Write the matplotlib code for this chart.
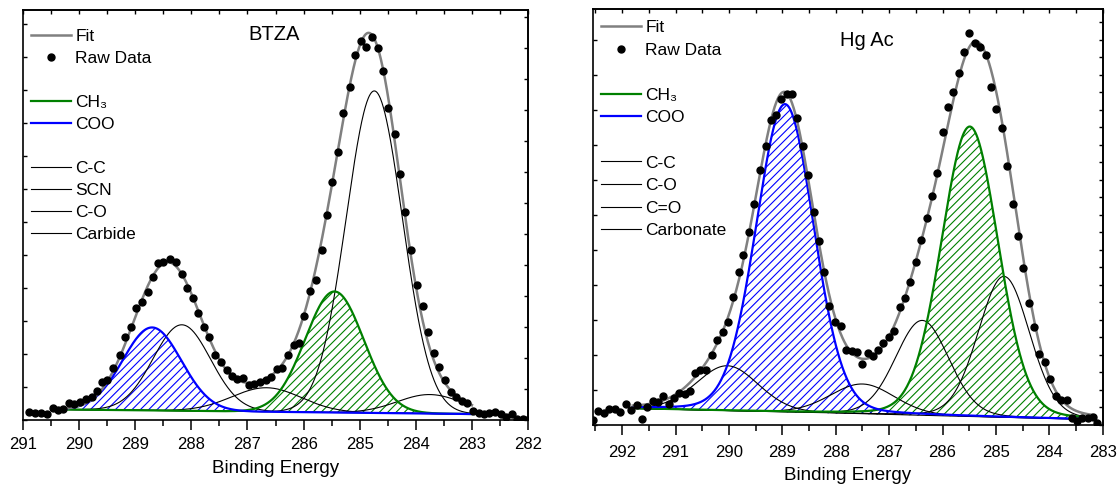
import numpy as np
import matplotlib
matplotlib.use('Agg')
import matplotlib.pyplot as plt
from matplotlib.ticker import MultipleLocator
from matplotlib.lines import Line2D

plt.rcParams['font.family'] = ['Liberation Sans', 'DejaVu Sans']
plt.rcParams['hatch.linewidth'] = 0.8

# ---------------- BTZA panel ----------------
btza_energy = [290.89, 290.79, 290.68, 290.58, 290.47, 290.37, 290.28, 290.18, 290.09, 289.98,
               289.88, 289.78, 289.68, 289.59, 289.50, 289.39, 289.28, 289.18, 289.08, 288.99,
               288.88, 288.78, 288.69, 288.59, 288.50, 288.38, 288.27, 288.17, 288.07, 287.98,
               287.88, 287.77, 287.68, 287.58, 287.48, 287.37, 287.27, 287.18, 287.08, 286.98,
               286.88, 286.78, 286.67, 286.58, 286.48, 286.39, 286.28, 286.18, 286.08, 285.99,
               285.88, 285.78, 285.68, 285.58, 285.49, 285.38, 285.29, 285.18, 285.08, 284.98,
               284.89, 284.78, 284.68, 284.58, 284.49, 284.38, 284.29, 284.19, 284.09, 283.98,
               283.88, 283.78, 283.67, 283.58, 283.48, 283.38, 283.28, 283.18, 283.08, 282.98,
               282.88, 282.78, 282.69, 282.59, 282.48, 282.39, 282.29, 282.19, 282.09, 282.02]
btza_counts = [8.3, 6.7, 6.7, 5.7, 11.7, 10, 10.7, 16.7, 16, 18.3,
               20.7, 23.3, 29.3, 38.3, 40, 51.7, 65, 83.3, 93.3, 111.7,
               118.3, 128.3, 143.3, 156.7, 158.3, 160.7, 158.3, 146, 131.7, 121.7,
               106.7, 93.3, 83.3, 65, 58.3, 50, 44, 40.7, 41.7, 35,
               36, 38.3, 40, 43.3, 50.7, 51.7, 65, 75, 77.3, 104,
               129.3, 140, 170, 205, 238.3, 268.3, 307.3, 332.7, 365, 379,
               373.3, 383.3, 371.7, 349, 311.7, 286, 246, 208, 170, 135,
               114, 87.7, 67.3, 52.7, 40, 28.3, 23.3, 19, 17.3, 9.3,
               6.7, 6, 7.3, 7.7, 5.7, 3.3, 5.7, 0.7, 0.7, 0]
btza_bg_energy = [290.2, 283.0]
btza_bg_level = [10.5, 6.0]
btza_names = ['CH₃', 'COO', 'C-C', 'SCN', 'C-O', 'Carbide']
btza_centers = [285.45, 288.70, 284.74, 288.17, 286.66, 283.75]
btza_heights = [121, 83, 322, 86, 24, 19]
btza_sigmas = [0.52, 0.52, 0.50, 0.51, 0.62, 0.58]
btza_lorentz = 0.0

# ---------------- Hg Ac panel ----------------
hgac_energy = [292.54, 292.45, 292.34, 292.24, 292.13, 292.04, 291.93, 291.83, 291.73, 291.63,
               291.53, 291.43, 291.32, 291.23, 291.13, 291.03, 290.93, 290.82, 290.73, 290.63,
               290.54, 290.43, 290.32, 290.22, 290.12, 290.02, 289.92, 289.82, 289.73, 289.62,
               289.53, 289.42, 289.31, 289.22, 289.12, 289.02, 288.92, 288.81, 288.72, 288.61,
               288.51, 288.41, 288.31, 288.22, 288.12, 288.01, 287.91, 287.81, 287.70, 287.61,
               287.50, 287.40, 287.31, 287.20, 287.11, 287.00, 286.90, 286.80, 286.70, 286.61,
               286.50, 286.40, 286.30, 286.20, 286.10, 286.00, 285.90, 285.80, 285.70, 285.60,
               285.50, 285.39, 285.30, 285.19, 285.09, 285.00, 284.89, 284.79, 284.69, 284.59,
               284.49, 284.39, 284.29, 284.19, 284.09, 283.99, 283.88, 283.78, 283.67, 283.58,
               283.48, 283.38, 283.28, 283.19, 283.10]
hgac_counts = [5, 14.3, 11.7, 15.7, 15.7, 12.7, 21, 15, 20.3, 6.3,
               17.7, 24.3, 23.3, 29, 21, 26.7, 32.3, 31, 34.3, 51.7,
               55, 55, 69.5, 85, 93.3, 103.3, 128, 153, 170, 192.7,
               220.5, 255, 279.3, 305, 310, 325.7, 331, 331, 306.7, 279,
               250, 213.3, 184.3, 153.3, 119, 103.3, 99, 75, 74.3, 73.3,
               61, 72.3, 69, 75, 81.7, 87.7, 94, 118.3, 126.7, 143.3,
               163.3, 185, 207, 229, 251.7, 293.3, 317.7, 333.3, 351.7, 373.3,
               392.3, 381.7, 378.3, 370, 337.7, 316.3, 296.7, 259.3, 221, 189,
               156.7, 121.7, 98.3, 71, 63.3, 46, 29, 25, 25, 6.7,
               4, 6.7, 7, 8.3, 2.3]
hgac_bg_energy = [291.8, 283.2]
hgac_bg_level = [16.5, 5.5]
hgac_names = ['CH₃', 'COO', 'C-C', 'C-O', 'C=O', 'Carbonate']
hgac_centers = [285.49, 288.95, 284.85, 286.38, 287.50, 290.03]
hgac_heights = [290, 308, 141, 95, 30, 45]
hgac_sigmas = [0.53, 0.54, 0.48, 0.50, 0.60, 0.58]
hgac_lorentz = 0.1

FIT_C = '#808080'
CH3_C = '#008000'
COO_C = '#0000ff'


def peak(x, c, h, s, m):
    g = np.exp(-(x - c) ** 2 / (2 * s ** 2))
    lor = 1.0 / (1.0 + ((x - c) / (1.1774 * s)) ** 2)
    return h * ((1 - m) * g + m * lor)


def draw_panel(ax, energy, counts, bgE, bgL, names, centers, heights, sigmas, m):
    x = np.linspace(bgE[0], bgE[1], 800)
    bg = np.interp(x, bgE[::-1], bgL[::-1])
    comps = [peak(x, c, h, s, m) for c, h, s in zip(centers, heights, sigmas)]
    for comp in comps[2:]:
        ax.plot(x, bg + comp, color='black', lw=0.8, zorder=3)
    ax.fill_between(x, bg, bg + comps[0], facecolor='none', edgecolor=CH3_C,
                    hatch='////', lw=0, zorder=2)
    ax.plot(x, bg + comps[0], color=CH3_C, lw=1.6, zorder=4)
    ax.fill_between(x, bg, bg + comps[1], facecolor='none', edgecolor=COO_C,
                    hatch='////', lw=0, zorder=2)
    ax.plot(x, bg + comps[1], color=COO_C, lw=1.6, zorder=4)
    ax.plot(x, bg + np.sum(comps, axis=0), color=FIT_C, lw=1.8, zorder=5)
    ax.plot(energy, counts, 'o', color='black', ms=5, zorder=6)

    handles = [Line2D([], [], color=FIT_C, lw=1.8),
               Line2D([], [], color='black', marker='o', ms=5, ls='none'),
               Line2D([], [], ls='none'),
               Line2D([], [], color=CH3_C, lw=1.6),
               Line2D([], [], color=COO_C, lw=1.6),
               Line2D([], [], ls='none')] + \
              [Line2D([], [], color='black', lw=0.8) for _ in names[2:]]
    labels = ['Fit', 'Raw Data', ' ', names[0], names[1], ' '] + list(names[2:])
    return handles, labels


def style_axes(ax, xlim, ylim, ytick_l, ytick_r, tpad, lpad):
    ax.set_xlim(*xlim)
    ax.set_ylim(*ylim)
    ax.xaxis.set_major_locator(MultipleLocator(1))
    ax.xaxis.set_minor_locator(MultipleLocator(0.5))
    ax.tick_params(axis='x', which='major', direction='out', length=7, width=1.1,
                   labelsize=12, pad=tpad)
    ax.tick_params(axis='x', which='minor', direction='out', length=4, width=1.1)
    ax.yaxis.set_major_locator(MultipleLocator(ytick_l))
    ax.tick_params(axis='y', which='major', direction='in', length=3, width=1,
                   labelleft=False)
    for sp in ax.spines.values():
        sp.set_linewidth(1.2)
    top = ax.secondary_xaxis('top')
    top.xaxis.set_major_locator(MultipleLocator(0.5))
    top.tick_params(direction='in', length=3, width=1, labeltop=False)
    top.spines['top'].set_linewidth(1.2)
    right = ax.secondary_yaxis('right')
    right.yaxis.set_major_locator(MultipleLocator(ytick_r))
    right.tick_params(direction='in', length=3, width=1, labelright=False)
    right.spines['right'].set_linewidth(1.2)
    ax.set_xlabel('Binding Energy', fontsize=13.5, labelpad=lpad)


fig = plt.figure(figsize=(11.19, 4.88), dpi=100)
ax1 = fig.add_axes([0.0206, 0.1393, 0.4513, 0.8402])
ax2 = fig.add_axes([0.5297, 0.1291, 0.4558, 0.8525])

h1, l1 = draw_panel(ax1, btza_energy, btza_counts, btza_bg_energy, btza_bg_level,
                    btza_names, btza_centers, btza_heights, btza_sigmas, btza_lorentz)
h2, l2 = draw_panel(ax2, hgac_energy, hgac_counts, hgac_bg_energy, hgac_bg_level,
                    hgac_names, hgac_centers, hgac_heights, hgac_sigmas, hgac_lorentz)

style_axes(ax1, (291, 282), (0, 410), 33, 31, 5, 6)
style_axes(ax2, (292.55, 283), (0, 416), 35, 17.5, 7.5, 5)

for ax, h, l, anchor, sp in ((ax1, h1, l1, (0.016, 0.955), 0.40),
                             (ax2, h2, l2, (0.016, 0.973), 0.425)):
    ax.legend(h, l, loc='upper left', bbox_to_anchor=anchor, frameon=False,
              fontsize=12.5, handlelength=2.3, handletextpad=0.25, labelspacing=sp,
              borderpad=0, borderaxespad=0)

ax1.text(0.497, 0.941, 'BTZA', transform=ax1.transAxes, fontsize=14.5,
         ha='center', va='center')
ax2.text(0.538, 0.925, 'Hg Ac', transform=ax2.transAxes, fontsize=14.5,
         ha='center', va='center')

fig.savefig('out.png', dpi=100)
